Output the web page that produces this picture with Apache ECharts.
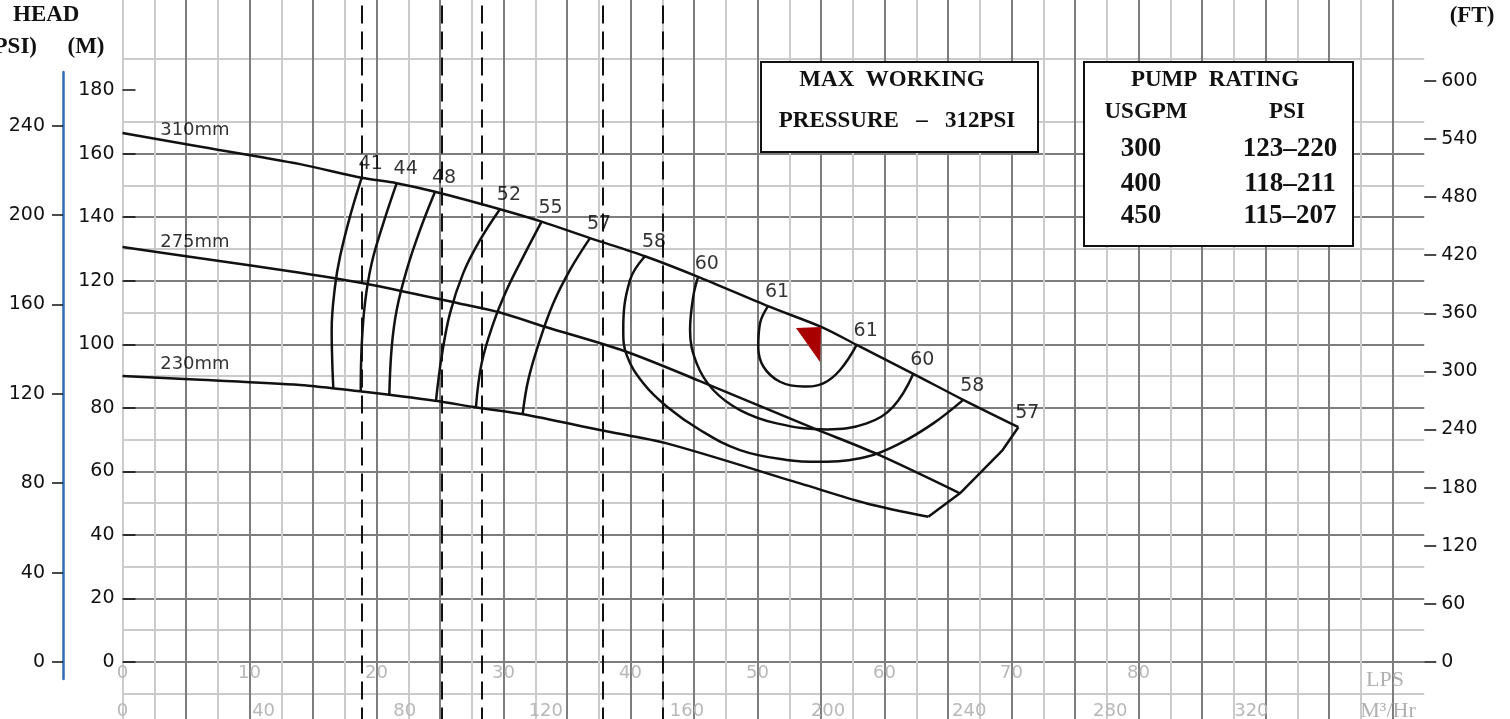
<!DOCTYPE html>
<html>
<head>
<meta charset="utf-8">
<title>Pump performance curve</title>
<script src="https://cdn.jsdelivr.net/npm/echarts@6/dist/echarts.min.js"></script>
<style>
  html, body { margin: 0; padding: 0; background: #fff; overflow: hidden; width: 1510px; height: 719px; position: relative; }
  /* plot area runs past the page edges, so the chart box starts a little above the page */
  #chart { position: absolute; left: 0; top: -6px; width: 1510px; height: 732px; }
</style>
</head>
<body>
<div id="chart"></div>
<script>
// flow in LPS, head in M
const imp310 = [[0,166.5],[5.7,162.5],[13.98,156.7],[18.83,152.4],[21.59,150.7],[24.61,148.0],[29.72,142.5],[33.0,138.6],[36.81,133.4],[41.14,127.7],[45.47,121.0],[50.83,112.0],[55.06,105.4],[57.81,99.8],[62.27,90.7],[66.2,82.5],[70.54,73.9]];
const imp275 = [[0,130.6],[5.7,127.3],[13.98,122.5],[19.35,118.9],[26.44,112.9],[29.72,110.0],[33.27,105.5],[39.57,97.8],[45.47,88.4],[54.39,73.6],[59.39,65.5],[65.94,53.1]];
const imp230 = [[0,90.0],[5.7,88.9],[13.98,87.2],[18.83,85.1],[24.61,82.2],[27.89,80.1],[31.56,78.0],[37.6,73.0],[42.85,68.8],[53.35,56.2],[58.6,49.9],[63.45,45.7]];
const impNames = ['310mm', '275mm', '230mm'];
const endLine = [[70.54,73.9],[69.3,66.7],[65.94,53.1],[63.45,45.7]];

// efficiency lines (%), top point first
const eff41 = [[18.83,152.4],[17.91,140.2],[17.13,127.6],[16.73,118.1],[16.47,104.5],[16.52,94.0],[16.6,86.2]];
const eff44 = [[21.59,150.7],[20.54,138.1],[19.62,125.5],[19.09,112.9],[18.83,99.2],[18.76,85.1]];
const eff48 = [[24.61,148.0],[23.43,136.0],[22.38,123.4],[21.59,110.8],[21.2,99.2],[21.01,84.3]];
const eff52 = [[29.72,142.5],[28.15,132.8],[26.83,122.4],[25.79,109.8],[25.13,96.1],[24.69,82.4]];
const eff55 = [[33.0,138.6],[31.56,127.6],[30.25,117.1],[29.2,106.6],[28.28,94.0],[27.83,80.2]];
const eff57 = [[36.81,133.4],[35.24,123.4],[33.92,112.9],[32.87,101.4],[31.95,88.8],[31.51,78.0]];
const eff58 = [[41.14,127.7],[39.96,120.2],[39.43,104.5],[39.7,96.6],[41.01,87.7],[42.85,80.4],[45.47,73.0],[48.62,66.7],[52.3,63.6],[54.92,63.0],[58.6,64.6],[61.22,68.8],[63.84,75.1],[66.2,82.5]];
const eff60 = [[45.3,120.9],[44.94,115.0],[44.69,104.5],[45.21,94.0],[46.52,85.6],[48.62,79.3],[51.51,75.1],[55.45,73.2],[58.6,75.1],[60.69,80.4],[62.27,90.7]];
const eff61 = [[50.83,112.0],[50.2,106.6],[50.06,99.2],[50.46,93.0],[51.77,88.2],[53.61,86.7],[55.18,87.7],[56.5,91.9],[57.81,99.8]];

const dashLps = [18.85, 25.1, 28.3, 37.85, 42.55];
const dutyPoint = [55.0, 105.4];

const mTicks = [0, 20, 40, 60, 80, 100, 120, 140, 160, 180];
const psiTicks = [0, 40, 80, 120, 160, 200, 240];
const lpsTicks = [0, 10, 20, 30, 40, 50, 60, 70, 80];
const m3hTicks = [0, 40, 80, 120, 160, 200, 240, 280, 320];
// ft scale: 0 to 600, step 60

const ratingFlow = ['300', '400', '450'];
const ratingPsi = ['123–220', '118–211', '115–207'];

const DARK = '#7d7d7d';
const LIGHT = '#cbcbcb';
const SANS = '"DejaVu Sans", sans-serif';
const SERIF = '"Liberation Serif", serif';
const OFF = 6; // chart box starts 6px above the page

const myChart = echarts.init(document.getElementById('chart'));

const impCurves = [imp310, imp275, imp230];
const effCurves = [
  { name: '41', pts: eff41, both: false },
  { name: '44', pts: eff44, both: false },
  { name: '48', pts: eff48, both: false },
  { name: '52', pts: eff52, both: false },
  { name: '55', pts: eff55, both: false },
  { name: '57', pts: eff57, both: false },
  { name: '58', pts: eff58, both: true },
  { name: '60', pts: eff60, both: true },
  { name: '61', pts: eff61, both: true }
];

const lineBase = (data, smooth) => ({
  type: 'line',
  xAxisIndex: 0,
  yAxisIndex: 0,
  data,
  smooth,
  symbol: 'none',
  silent: true,
  lineStyle: { color: '#111', width: 2.5 },
  z: 5
});

const effLabelData = [];
effCurves.forEach(c => {
  effLabelData.push({ value: c.pts[0], name: c.name });
  if (c.both) effLabelData.push({ value: c.pts[c.pts.length - 1], name: c.name });
});
effLabelData.push({ value: imp310[imp310.length - 1], name: '57' });

const impLabelData = impCurves.map((c, i) => ({ value: c[1], name: impNames[i] }));

const series = [];
impCurves.forEach(c => series.push(lineBase(c, 0.3)));
series.push(lineBase(endLine, false));
effCurves.forEach(c => series.push(lineBase(c.pts, 0.4)));

// dashed lines
series.push({
  type: 'line',
  xAxisIndex: 0,
  yAxisIndex: 0,
  data: [],
  markLine: {
    silent: true,
    symbol: 'none',
    label: { show: false },
    lineStyle: { color: '#111', width: 2, type: [18, 8] },
    data: dashLps.map(v => ({ xAxis: v }))
  },
  z: 4
});

const labelStyle = {
  show: true,
  position: 'inside',
  formatter: p => p.name,
  color: '#000',
  textBorderWidth: 0,
  fontFamily: SANS
};

series.push({
  type: 'scatter',
  xAxisIndex: 0,
  yAxisIndex: 0,
  symbolSize: 0,
  silent: true,
  data: effLabelData,
  label: Object.assign({}, labelStyle, { offset: [9, -14], fontSize: 19 }),
  z: 6
});

series.push({
  type: 'scatter',
  xAxisIndex: 0,
  yAxisIndex: 0,
  symbolSize: 0,
  silent: true,
  data: impLabelData,
  label: Object.assign({}, labelStyle, { offset: [0, -15], fontSize: 18 }),
  z: 6
});

// red marker, its right corner sits on the duty point
series.push({
  type: 'scatter',
  xAxisIndex: 0,
  yAxisIndex: 0,
  data: [dutyPoint],
  silent: true,
  symbol: 'path://M0,1 L25,0 L24,35 Z',
  symbolSize: [25, 35],
  symbolOffset: [-12.5, 17.5],
  itemStyle: { color: '#a80000', opacity: 1 },
  z: 7
});

const boxText = (x, y, text, size) => ({
  type: 'text',
  x, y: y + OFF,
  z: 101,
  style: {
    text,
    align: 'center',
    verticalAlign: 'middle',
    font: 'bold ' + (size || 23) + 'px ' + SERIF,
    fill: '#111'
  }
});

const plainText = (x, y, text, align, font, fill) => ({
  type: 'text', x, y: y + OFF, z: 100,
  style: { text, align, verticalAlign: 'middle', font, fill }
});

const graphic = [
  plainText(13, 15, 'HEAD', 'left', 'bold 23px ' + SERIF, '#111'),
  plainText(37, 47, '(PSI)', 'right', 'bold 23px ' + SERIF, '#111'),
  plainText(86, 47, '(M)', 'center', 'bold 23px ' + SERIF, '#111'),
  plainText(1472, 16, '(FT)', 'center', 'bold 23px ' + SERIF, '#111'),
  plainText(1385, 680, 'LPS', 'center', '22px ' + SERIF, '#b0b0b0'),
  plainText(1388, 711, 'M³/Hr', 'center', '22px ' + SERIF, '#b0b0b0'),
  { type: 'rect', z: 100, shape: { x: 761, y: 62 + OFF, width: 277, height: 90 }, style: { fill: '#fff', stroke: '#111', lineWidth: 2 } },
  boxText(892, 80, 'MAX  WORKING'),
  boxText(897, 121, 'PRESSURE   –   312PSI'),
  { type: 'rect', z: 100, shape: { x: 1084, y: 62 + OFF, width: 269, height: 184 }, style: { fill: '#fff', stroke: '#111', lineWidth: 2 } },
  boxText(1215, 80, 'PUMP  RATING'),
  boxText(1146, 112, 'USGPM'),
  boxText(1287, 112, 'PSI')
];
const rowY = [149, 184, 216];
ratingFlow.forEach((f, i) => {
  graphic.push(boxText(1141, rowY[i], f, 27));
  graphic.push(boxText(1290, rowY[i], ratingPsi[i], 27));
});

const option = {
  backgroundColor: '#fff',
  animation: false,
  grid: [
    { left: 122.5, right: 85.75, top: 0.8, bottom: 0.5 },            // main plot, M -20..210
    { left: 63, width: 20, top: 72 + OFF, bottom: 732 - 679 - OFF }, // psi scale
    { left: 1424.25, width: 1, top: 86.8, bottom: 5.9 }              // ft scale, -60..600, thin strip on the right edge
  ],
  xAxis: [
    {
      gridIndex: 0, type: 'value', min: 0, max: 102.5, interval: 5,
      axisLine: { show: false }, axisTick: { show: false }, axisLabel: { show: false },
      splitLine: { show: true, showMinLine: false, showMaxLine: false, lineStyle: { color: DARK, width: 2 } },
      minorTick: { show: false, splitNumber: 2 },
      minorSplitLine: { show: true, lineStyle: { color: LIGHT, width: 2 } }
    },
    { gridIndex: 1, type: 'value', show: false },
    {
      gridIndex: 0, type: 'value', position: 'bottom', min: 0, max: 102.5,
      axisLine: { show: false }, axisTick: { show: false }, splitLine: { show: false },
      axisLabel: { inside: true, customValues: lpsTicks, margin: 43, color: '#b8b8b8', fontSize: 18, fontFamily: SANS, showMinLabel: true }
    },
    {
      gridIndex: 0, type: 'value', position: 'bottom', min: 0, max: 369,
      axisLine: { show: false }, axisTick: { show: false }, splitLine: { show: false },
      axisLabel: { inside: true, customValues: m3hTicks, margin: 5, color: '#b8b8b8', fontSize: 18, fontFamily: SANS, showMinLabel: true }
    },
    { gridIndex: 2, type: 'value', show: false }
  ],
  yAxis: [
    {
      gridIndex: 0, type: 'value', min: -20, max: 210, interval: 20,
      axisLine: { show: true, lineStyle: { color: LIGHT, width: 2 } },
      axisTick: { show: true, inside: true, length: 13, customValues: mTicks, lineStyle: { color: '#111', width: 1.5 } },
      axisLabel: { customValues: mTicks, margin: 8, color: '#111', fontSize: 19, fontFamily: SANS },
      splitLine: { show: true, showMaxLine: false, lineStyle: { color: DARK, width: 2 } },
      minorTick: { show: false, splitNumber: 2 },
      minorSplitLine: { show: true, lineStyle: { color: LIGHT, width: 2 } }
    },
    {
      // right edge of the plot
      gridIndex: 0, type: 'value', position: 'right', min: -20, max: 210,
      axisLine: { show: true, lineStyle: { color: LIGHT, width: 2 } },
      axisTick: { show: false }, axisLabel: { show: false }, splitLine: { show: false }
    },
    {
      gridIndex: 1, type: 'value', position: 'left', min: -7.608, max: 264.05,
      axisLine: { show: true, lineStyle: { color: '#2f6db5', width: 2.5 } },
      axisTick: { show: true, length: 11, customValues: psiTicks, lineStyle: { color: '#111', width: 1.5 } },
      axisLabel: { customValues: psiTicks, margin: 18, color: '#111', fontSize: 19, fontFamily: SANS },
      splitLine: { show: false }
    },
    {
      gridIndex: 2, type: 'value', position: 'right', min: -60, max: 600, interval: 60,
      axisLine: { show: false },
      axisTick: { show: true, length: 12, lineStyle: { color: '#111', width: 1.5 } },
      axisLabel: { margin: 16, color: '#111', fontSize: 19, fontFamily: SANS, formatter: v => (v < 0 ? '' : v) },
      splitLine: { show: false }
    }
  ],
  graphic,
  series
};
myChart.setOption(option);
</script>
</body>
</html>
